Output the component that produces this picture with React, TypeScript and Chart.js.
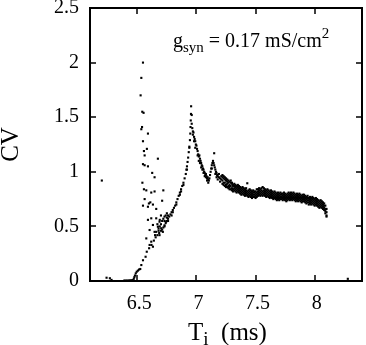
import React, { useEffect, useRef } from 'react';
import { Chart, registerables } from 'chart.js';

Chart.register(...registerables);

const xTicks = [6.5, 7, 7.5, 8];
const yTicks = [0, 0.5, 1, 1.5, 2, 2.5];
const xLabels = ['6.5', '7', '7.5', '8'];
const yLabels = ['0', '0.5', '1', '1.5', '2', '2.5'];

// isolated points and the near-zero baseline with the small hook at 6.5
const baseline: [number, number][] = [
  [6.2, 0.92], [6.24, 0.03], [6.268, 0.025], [6.282, 0.01],
  [6.39, 0.004], [6.4, 0.003], [6.41, 0.004], [6.42, 0.003], [6.43, 0.004],
  [6.44, 0.005], [6.45, 0.006], [6.46, 0.008], [6.47, 0.02], [6.475, 0.035],
  [6.48, 0.05], [6.487, 0.07], [6.495, 0.085], [6.505, 0.095], [6.515, 0.105],
  [6.525, 0.11], [8.28, 0.02],
];

// scattered points of the spike near 6.55 and the cloud left of the rising branch
const spike: [number, number][] = [
  [6.548, 2.0], [6.534, 1.86], [6.528, 1.7], [6.542, 1.55], [6.553, 1.54],
  [6.54, 1.41], [6.534, 1.39], [6.59, 1.35], [6.548, 1.28], [6.556, 1.19],
  [6.581, 1.21], [6.562, 1.15], [6.674, 1.12], [6.548, 1.07], [6.562, 1.06],
  [6.59, 1.05], [6.626, 0.99], [6.646, 0.95], [6.543, 0.9], [6.556, 0.84],
  [6.576, 0.83], [6.618, 0.81], [6.646, 0.82], [6.72, 0.83], [6.562, 0.75],
  [6.598, 0.71], [6.61, 0.72], [6.632, 0.7], [6.548, 0.69], [6.59, 0.68],
  [6.71, 0.735], [6.66, 0.66], [6.59, 0.56], [6.618, 0.574], [6.66, 0.574],
  [6.688, 0.543], [6.73, 0.59], [6.632, 0.513], [6.674, 0.497], [6.702, 0.483],
  [6.744, 0.543], [6.604, 0.467], [6.646, 0.45], [6.688, 0.42], [6.716, 0.45],
  [6.576, 0.39], [6.618, 0.36], [6.632, 0.314], [6.604, 0.33], [6.58, 0.268],
  [6.57, 0.222], [6.548, 0.19], [6.534, 0.146],
  [6.68, 0.48], [6.69, 0.5], [6.7, 0.52], [6.71, 0.55], [6.72, 0.57],
  [6.74, 0.6], [6.75, 0.62], [6.69, 0.56], [6.7, 0.6], [6.67, 0.52],
  [6.73, 0.55], [6.75, 0.58], [6.76, 0.6], [6.66, 0.45], [6.65, 0.42], [6.68, 0.46],
];

// main rising branch up to the peak at ~6.95
const rise: [number, number][] = [
  [6.6, 0.3], [6.62, 0.33], [6.64, 0.37], [6.655, 0.4], [6.67, 0.42],
  [6.685, 0.44], [6.7, 0.46], [6.71, 0.47], [6.72, 0.49], [6.73, 0.51],
  [6.74, 0.53], [6.75, 0.55], [6.76, 0.57], [6.77, 0.59], [6.78, 0.61],
  [6.79, 0.63], [6.8, 0.65], [6.81, 0.67], [6.82, 0.69], [6.83, 0.72],
  [6.84, 0.75], [6.85, 0.78], [6.86, 0.81], [6.87, 0.84], [6.88, 0.87],
  [6.89, 0.9], [6.9, 0.94], [6.91, 0.98], [6.915, 1.02], [6.92, 1.05],
  [6.925, 1.09], [6.93, 1.13], [6.935, 1.18], [6.94, 1.23], [6.945, 1.29],
  [6.948, 1.35], [6.95, 1.41], [6.952, 1.47], [6.954, 1.53], [6.955, 1.6],
  [6.73, 0.5], [6.76, 0.55], [6.79, 0.6], [6.83, 0.7], [6.86, 0.79],
  [6.89, 0.88], [6.92, 1.02], [6.94, 1.22], [6.8, 0.63], [6.87, 0.82],
];

// fall after the peak, dip at 7.1, second bump at 7.15
const fall: [number, number][] = [
  [6.96, 1.52], [6.96, 1.44], [6.965, 1.4], [6.97, 1.37], [6.97, 1.34],
  [6.975, 1.36], [6.98, 1.32], [6.985, 1.3], [6.99, 1.28], [6.995, 1.25],
  [7.0, 1.24], [7.005, 1.21], [7.01, 1.19], [7.015, 1.16], [7.02, 1.14],
  [7.025, 1.15], [7.03, 1.12], [7.035, 1.1], [7.04, 1.08], [7.045, 1.06],
  [7.05, 1.05], [7.055, 1.03], [7.06, 1.02], [7.065, 1.0], [7.07, 0.99],
  [7.075, 0.97], [7.08, 0.98], [7.085, 0.96], [7.09, 0.94], [7.095, 0.95],
  [7.1, 0.93], [7.105, 0.92], [7.11, 0.94], [7.115, 0.97], [7.12, 1.0],
  [7.125, 1.03], [7.13, 1.06], [7.135, 1.08], [7.14, 1.1], [7.145, 1.08],
  [7.15, 1.17], [7.15, 1.06], [7.155, 1.04], [7.16, 1.02], [7.165, 1.0],
  [7.17, 0.99], [7.175, 0.97], [7.18, 0.96], [7.19, 0.95], [7.2, 0.94],
  [7.21, 0.93], [6.99, 1.22], [7.01, 1.15], [7.03, 1.08], [7.05, 1.02],
  [7.07, 0.96], [7.09, 0.92], [7.13, 1.03], [7.16, 0.98], [7.18, 0.93],
  [7.2, 0.91], [6.98, 1.28], [7.02, 1.1], [7.04, 1.04], [7.06, 0.99],
  [7.19, 0.98], [7.21, 0.96], [7.17, 0.95], [7.1, 0.9], [7.08, 0.95],
];

// long decaying band: T followed by four CV readings in that column
const band: [number, number, number, number, number][] = [
  [7.22, 0.97, 0.92, 0.95, 0.89], [7.23, 0.94, 0.9, 0.96, 0.88],
  [7.24, 0.93, 0.87, 0.9, 0.95], [7.25, 0.92, 0.88, 0.94, 0.86],
  [7.26, 0.91, 0.86, 0.89, 0.93], [7.27, 0.9, 0.85, 0.92, 0.87],
  [7.28, 0.86, 0.91, 0.88, 0.84], [7.29, 0.9, 0.84, 0.87, 0.92],
  [7.3, 0.89, 0.85, 0.83, 0.9], [7.31, 0.88, 0.84, 0.87, 0.82],
  [7.32, 0.85, 0.89, 0.83, 0.87], [7.33, 0.88, 0.82, 0.86, 0.84],
  [7.34, 0.83, 0.87, 0.85, 0.81], [7.35, 0.86, 0.82, 0.88, 0.84],
  [7.36, 0.81, 0.85, 0.83, 0.87], [7.37, 0.84, 0.8, 0.86, 0.82],
  [7.38, 0.85, 0.81, 0.83, 0.79], [7.39, 0.8, 0.84, 0.82, 0.86],
  [7.4, 0.83, 0.79, 0.85, 0.81], [7.41, 0.8, 0.84, 0.78, 0.82],
  [7.42, 0.83, 0.79, 0.81, 0.85], [7.43, 0.78, 0.82, 0.8, 0.895],
  [7.44, 0.83, 0.79, 0.81, 0.77], [7.45, 0.8, 0.84, 0.78, 0.82],
  [7.46, 0.77, 0.81, 0.79, 0.83], [7.47, 0.82, 0.78, 0.8, 0.76],
  [7.48, 0.79, 0.83, 0.77, 0.81], [7.49, 0.81, 0.77, 0.79, 0.82],
  [7.5, 0.78, 0.82, 0.76, 0.8], [7.51, 0.81, 0.79, 0.84, 0.77],
  [7.52, 0.78, 0.82, 0.8, 0.84], [7.53, 0.83, 0.79, 0.81, 0.85],
  [7.54, 0.8, 0.84, 0.82, 0.78], [7.55, 0.85, 0.81, 0.79, 0.83],
  [7.56, 0.82, 0.86, 0.8, 0.78], [7.57, 0.79, 0.83, 0.81, 0.85],
  [7.58, 0.84, 0.8, 0.78, 0.82], [7.59, 0.81, 0.77, 0.83, 0.79],
  [7.6, 0.78, 0.82, 0.8, 0.84], [7.61, 0.83, 0.79, 0.77, 0.81],
  [7.62, 0.8, 0.76, 0.82, 0.78], [7.63, 0.77, 0.81, 0.79, 0.83],
  [7.64, 0.82, 0.78, 0.76, 0.8], [7.65, 0.79, 0.75, 0.81, 0.77],
  [7.66, 0.76, 0.8, 0.78, 0.82], [7.67, 0.81, 0.77, 0.75, 0.79],
  [7.68, 0.78, 0.74, 0.8, 0.76], [7.69, 0.75, 0.79, 0.77, 0.81],
  [7.7, 0.8, 0.76, 0.78, 0.74], [7.71, 0.77, 0.81, 0.75, 0.79],
  [7.72, 0.79, 0.75, 0.77, 0.8], [7.73, 0.74, 0.78, 0.76, 0.8],
  [7.74, 0.79, 0.77, 0.75, 0.81], [7.75, 0.76, 0.8, 0.74, 0.78],
  [7.76, 0.79, 0.75, 0.77, 0.73], [7.77, 0.74, 0.78, 0.8, 0.76],
  [7.78, 0.79, 0.75, 0.77, 0.81], [7.79, 0.76, 0.8, 0.74, 0.78],
  [7.8, 0.81, 0.77, 0.75, 0.79], [7.81, 0.78, 0.74, 0.8, 0.76],
  [7.82, 0.75, 0.79, 0.77, 0.81], [7.83, 0.8, 0.76, 0.74, 0.78],
  [7.84, 0.77, 0.73, 0.79, 0.75], [7.85, 0.74, 0.78, 0.76, 0.8],
  [7.86, 0.79, 0.75, 0.73, 0.77], [7.87, 0.76, 0.8, 0.74, 0.78],
  [7.88, 0.73, 0.77, 0.79, 0.75], [7.89, 0.78, 0.74, 0.76, 0.72],
  [7.9, 0.75, 0.79, 0.73, 0.77], [7.91, 0.77, 0.73, 0.75, 0.79],
  [7.92, 0.72, 0.76, 0.78, 0.74], [7.93, 0.77, 0.73, 0.75, 0.71],
  [7.94, 0.74, 0.78, 0.72, 0.76], [7.95, 0.76, 0.72, 0.74, 0.7],
  [7.96, 0.71, 0.75, 0.73, 0.77], [7.97, 0.76, 0.72, 0.7, 0.74],
  [7.98, 0.73, 0.77, 0.71, 0.75], [7.99, 0.7, 0.74, 0.72, 0.76],
  [8.0, 0.75, 0.71, 0.69, 0.73], [8.01, 0.72, 0.76, 0.7, 0.74],
  [8.02, 0.69, 0.73, 0.75, 0.71], [8.03, 0.74, 0.7, 0.68, 0.72],
  [8.04, 0.71, 0.67, 0.73, 0.69], [8.05, 0.68, 0.72, 0.7, 0.74],
  [8.06, 0.73, 0.69, 0.67, 0.71], [8.07, 0.7, 0.66, 0.72, 0.68],
  [8.08, 0.67, 0.71, 0.65, 0.69], [8.09, 0.69, 0.64, 0.66, 0.62],
  [8.1, 0.66, 0.6, 0.63, 0.59],
];

const SERIF = '"Liberation Serif", "Times New Roman", Times, serif';

type Run = { t: string; size: number; dy: number };

function drawRuns(ctx: CanvasRenderingContext2D, x: number, y: number, runs: Run[]) {
  let cx = x;
  runs.forEach((r) => {
    ctx.font = `${r.size}px ${SERIF}`;
    ctx.fillText(r.t, cx, y + r.dy);
    cx += ctx.measureText(r.t).width;
  });
}

export default function App() {
  const ref = useRef<HTMLCanvasElement>(null);

  useEffect(() => {
    if (!ref.current) return;
    const pts: { x: number; y: number }[] = [];
    [...baseline, ...spike, ...rise, ...fall].forEach(([x, y]) => pts.push({ x, y }));
    band.forEach(([t, ...vals]) => {
      vals.forEach((v) => pts.push({ x: t, y: v }));
    });

    const framePlugin = {
      id: 'gnuplotFrame',
      afterDraw(chart: any) {
        const { ctx, chartArea: a, scales } = chart;
        const xs = scales.x;
        const ys = scales.y;
        ctx.save();
        ctx.strokeStyle = '#000';
        ctx.fillStyle = '#000';
        ctx.lineWidth = 2;
        ctx.strokeRect(a.left, a.top, a.right - a.left, a.bottom - a.top);
        ctx.lineWidth = 1.5;
        const L = 6;
        ctx.beginPath();
        xTicks.forEach((v) => {
          const px = Math.round(xs.getPixelForValue(v));
          ctx.moveTo(px, a.bottom);
          ctx.lineTo(px, a.bottom - L);
          ctx.moveTo(px, a.top);
          ctx.lineTo(px, a.top + L);
        });
        yTicks.forEach((v) => {
          const py = Math.round(ys.getPixelForValue(v));
          ctx.moveTo(a.left, py);
          ctx.lineTo(a.left + L, py);
          ctx.moveTo(a.right, py);
          ctx.lineTo(a.right - L, py);
        });
        ctx.stroke();

        // y title
        ctx.save();
        ctx.translate(18, (a.top + a.bottom) / 2);
        ctx.rotate(-Math.PI / 2);
        ctx.textAlign = 'center';
        ctx.textBaseline = 'alphabetic';
        ctx.font = `25px ${SERIF}`;
        ctx.fillText('CV', 0, 0);
        ctx.restore();

        ctx.textAlign = 'left';
        ctx.textBaseline = 'alphabetic';
        // x title
        const cxm = (a.left + a.right) / 2;
        drawRuns(ctx, cxm - 38, 340, [
          { t: 'T', size: 25, dy: 0 },
          { t: 'i', size: 19, dy: 5 },
          { t: '  (ms)', size: 25, dy: 0 },
        ]);
        // annotation
        drawRuns(ctx, 173, 47, [
          { t: 'g', size: 20, dy: 0 },
          { t: 'syn', size: 15, dy: 5 },
          { t: ' = 0.17 mS/cm', size: 20, dy: 0 },
          { t: '2', size: 15, dy: -9 },
        ]);
        ctx.restore();
      },
    };

    const tickFont = { family: SERIF, size: 20 };
    const chart = new Chart(ref.current, {
      type: 'scatter',
      data: {
        datasets: [
          {
            data: pts,
            pointStyle: 'rect',
            pointRadius: 1.5,
            pointBorderWidth: 0,
            backgroundColor: '#000',
            borderColor: '#000',
          },
        ],
      },
      options: {
        responsive: false,
        animation: false,
        layout: { padding: { left: 0, right: 3, top: 8, bottom: 0 } },
        plugins: { legend: { display: false }, tooltip: { enabled: false } },
        scales: {
          x: {
            type: 'linear',
            min: 6.1,
            max: 8.4,
            grid: { display: false, drawTicks: false },
            border: { display: false },
            afterBuildTicks: (s: any) => {
              s.ticks = xTicks.map((v) => ({ value: v }));
            },
            afterFit: (s: any) => {
              s.height = 64;
              s.paddingLeft = 0;
              s.paddingRight = 0;
            },
            ticks: {
              padding: 11,
              labelOffset: 2,
              color: '#000',
              font: tickFont,
              maxRotation: 0,
              autoSkip: false,
              callback: (v: any) => xLabels[xTicks.indexOf(Number(v))] ?? '',
            },
          },
          y: {
            type: 'linear',
            min: 0,
            max: 2.5,
            grid: { display: false, drawTicks: false },
            border: { display: false },
            afterBuildTicks: (s: any) => {
              s.ticks = yTicks.map((v) => ({ value: v }));
            },
            afterFit: (s: any) => {
              s.width = 90;
              s.paddingTop = 0;
              s.paddingBottom = 0;
            },
            ticks: {
              padding: 11,
              color: '#000',
              font: tickFont,
              autoSkip: false,
              callback: (v: any) => yLabels[yTicks.indexOf(Number(v))] ?? '',
            },
          },
        },
      },
      plugins: [framePlugin],
    } as any);
    return () => chart.destroy();
  }, []);

  return (
    <div style={{ position: 'absolute', left: 0, top: 0, width: 366, height: 345, background: '#fff' }}>
      <canvas ref={ref} width={366} height={345} style={{ width: 366, height: 345, display: 'block' }} />
    </div>
  );
}
